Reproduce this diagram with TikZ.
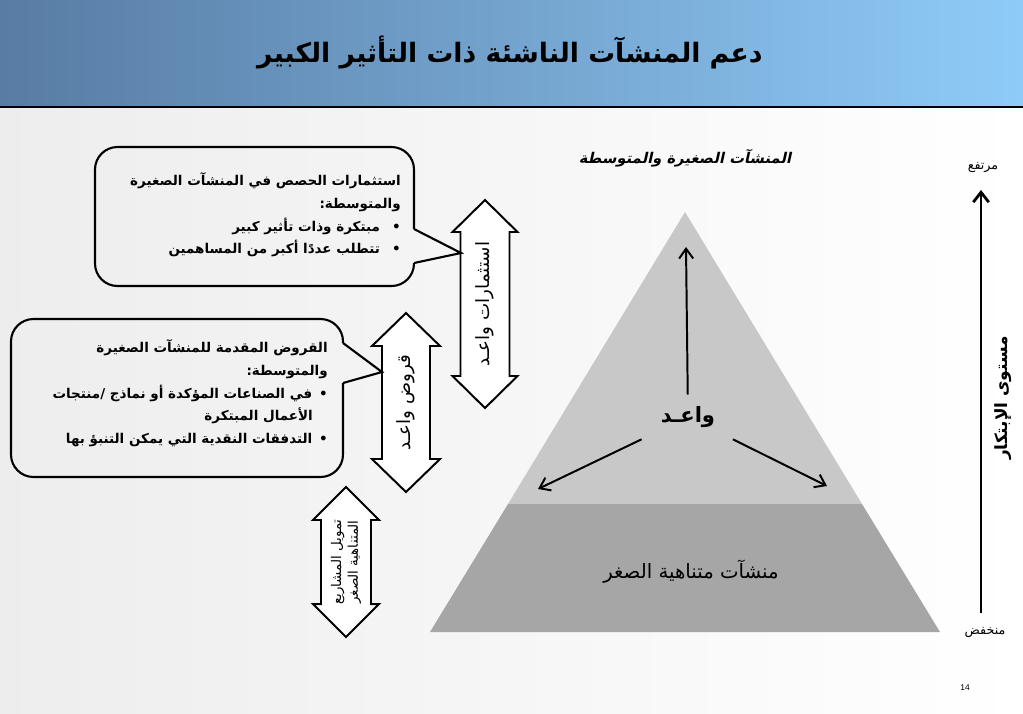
\documentclass[tikz,border=0pt]{standalone}
\usepackage{fontspec}
\setmainfont{Liberation Sans}
\newfontfamily\arabicfont[Script=Arabic,
  ItalicFont=DejaVu Sans,ItalicFeatures={FakeSlant=0.22},
  BoldItalicFont=DejaVu Sans Bold,BoldItalicFeatures={FakeSlant=0.22}]{DejaVu Sans}
\TeXXeTstate=1
\usetikzlibrary{arrows.meta,positioning,calc}
\newcommand{\artxt}[1]{{\arabicfont\beginR #1\endR}}
% double headed block arrow: name, x, top, bottom, half head, half shaft, head length
\newcommand{\dblarrow}[7]{%
  \draw[dblarr] (#2,#3) -- (#2+#5,#3+#7) -- (#2+#6,#3+#7) -- (#2+#6,#4-#7) -- (#2+#5,#4-#7)
    -- (#2,#4) -- (#2-#5,#4-#7) -- (#2-#6,#4-#7) -- (#2-#6,#3+#7) -- (#2-#5,#3+#7) -- cycle;
  \coordinate (#1) at (#2,{(#3+#4)/2});}
\definecolor{bandL}{RGB}{88,124,164}
\definecolor{bandR}{RGB}{143,203,248}
\definecolor{pyrTop}{RGB}{200,200,200}
\definecolor{pyrBot}{RGB}{166,166,166}

\begin{document}
\begin{tikzpicture}[x=0.025cm,y=-0.025cm,
  every node/.style={inner sep=0pt},
  callout/.style={line width=1.5pt,rounded corners=16pt},
  pointer/.style={line width=1.5pt,line join=miter},
  dblarr/.style={draw,fill=white,line width=1.4pt,line join=miter},
  txt/.style={font=\bfseries\fontsize{9.6}{16.3}\selectfont,align=right},
  lbl/.style={font=\fontsize{13}{14}\selectfont,rotate=90},
  inarr/.style={-{Straight Barb[length=7pt,width=10pt]},line width=1.4pt},
  axis/.style={-{Straight Barb[length=7pt,width=11pt]},line width=2pt}]
\useasboundingbox (0,0) rectangle (1023,713);
% background and title band
\shade[left color=black!7,right color=white] (0,107) rectangle (1023,713);
\shade[left color=bandL,right color=bandR] (0,0) rectangle (1023,107);
\draw[line width=1.6pt] (0,107) -- (1023,107);
\node[font=\arabicfont\bfseries\fontsize{19}{24}\selectfont] (title) at (510,52) {\artxt{دعم المنشآت الناشئة ذات التأثير الكبير}};

% block arrows
\dblarrow{arrA}{485}{200}{408}{32.5}{24.5}{32}
\dblarrow{arrB}{406}{313}{492}{34}{24}{33}
\dblarrow{arrC}{346}{487}{637}{33}{25}{33}
\node[lbl] (lblA) at (arrA) {\artxt{استثمارات واعـد}};
\node[lbl] (lblB) at (arrB) {\artxt{قروض واعـد}};
\node[lbl,font=\fontsize{9.5}{12}\selectfont,align=center] (lblC) at (arrC) {\artxt{تمويل المشاريع}\\\artxt{المتناهية الصغر}};

% callouts
\coordinate (tipA) at (461,253);
\coordinate (tipB) at (382,372);
\draw[callout] (414,229) -- (414,147) -- (95,147) -- (95,286) -- (414,286) -- (414,263);
\draw[pointer] (414,229) -- (tipA) -- (414,263);
\draw[callout] (343,343) -- (343,319) -- (11,319) -- (11,477) -- (343,477) -- (343,383);
\draw[pointer] (343,343) -- (tipB) -- (343,383);
\node[txt,anchor=north east] (eq) at (401,172) {%
  \artxt{استثمارات الحصص في المنشآت الصغيرة}\\
  \artxt{والمتوسطة:}\\
  \artxt{•\hspace{0.9em}مبتكرة وذات تأثير كبير}\\
  \artxt{•\hspace{0.9em}تتطلب عددًا أكبر من المساهمين}};
\node[txt,anchor=north east] (loan) at (328,339) {%
  \artxt{القروض المقدمة للمنشآت الصغيرة}\\
  \artxt{والمتوسطة:}\\
  \artxt{•\hspace{0.5em}في الصناعات المؤكدة أو نماذج /منتجات}\\
  \artxt{\hspace{1.1em}الأعمال المبتكرة}\\
  \artxt{•\hspace{0.5em}التدفقات النقدية التي يمكن التنبؤ بها}};

% pyramid
\coordinate (apex) at (685,212);
\coordinate (bl) at (430,632);
\coordinate (br) at (940,632);
\coordinate (ml) at (508,504);
\coordinate (mr) at (862,504);
\fill[pyrTop] (apex) -- (mr) -- (ml) -- cycle;
\fill[pyrBot] (ml) -- (mr) -- (br) -- (bl) -- cycle;
\node[font=\arabicfont\bfseries\itshape\fontsize{10.5}{12}\selectfont] (sme) at (685,158) {\artxt{المنشآت الصغيرة والمتوسطة}};
\node[font=\bfseries\fontsize{15}{18}\selectfont,minimum width=2.5cm,minimum height=1.1cm] (wa) at (688,417) {\artxt{واعـد}};
\node[font=\fontsize{14}{16}\selectfont] (micro) at (691,572) {\artxt{منشآت متناهية الصغر}};
\coordinate (upEnd) at (686,247);
\coordinate (leftEnd) at (538,489);
\coordinate (rightEnd) at (827,486);
\foreach \e in {upEnd,leftEnd,rightEnd} \draw[inarr] (wa) -- (\e);

% innovation axis
\node[font=\fontsize{9}{11}\selectfont] (high) at (983,167) {\artxt{مرتفع}};
\node[font=\fontsize{9}{11}\selectfont] (low) at (985,632) {\artxt{منخفض}};
\coordinate (axLow) at (981,613);
\coordinate (axHigh) at (981,190);
\draw[axis] (axLow) -- (axHigh);
\node[font=\bfseries\fontsize{12}{14}\selectfont,rotate=90] (lvl) at (1003,398) {\artxt{مستوى الإبتكار}};
\node[font=\fontsize{6}{7}\selectfont] (pg) at (965,688) {14};
\end{tikzpicture}
\end{document}
